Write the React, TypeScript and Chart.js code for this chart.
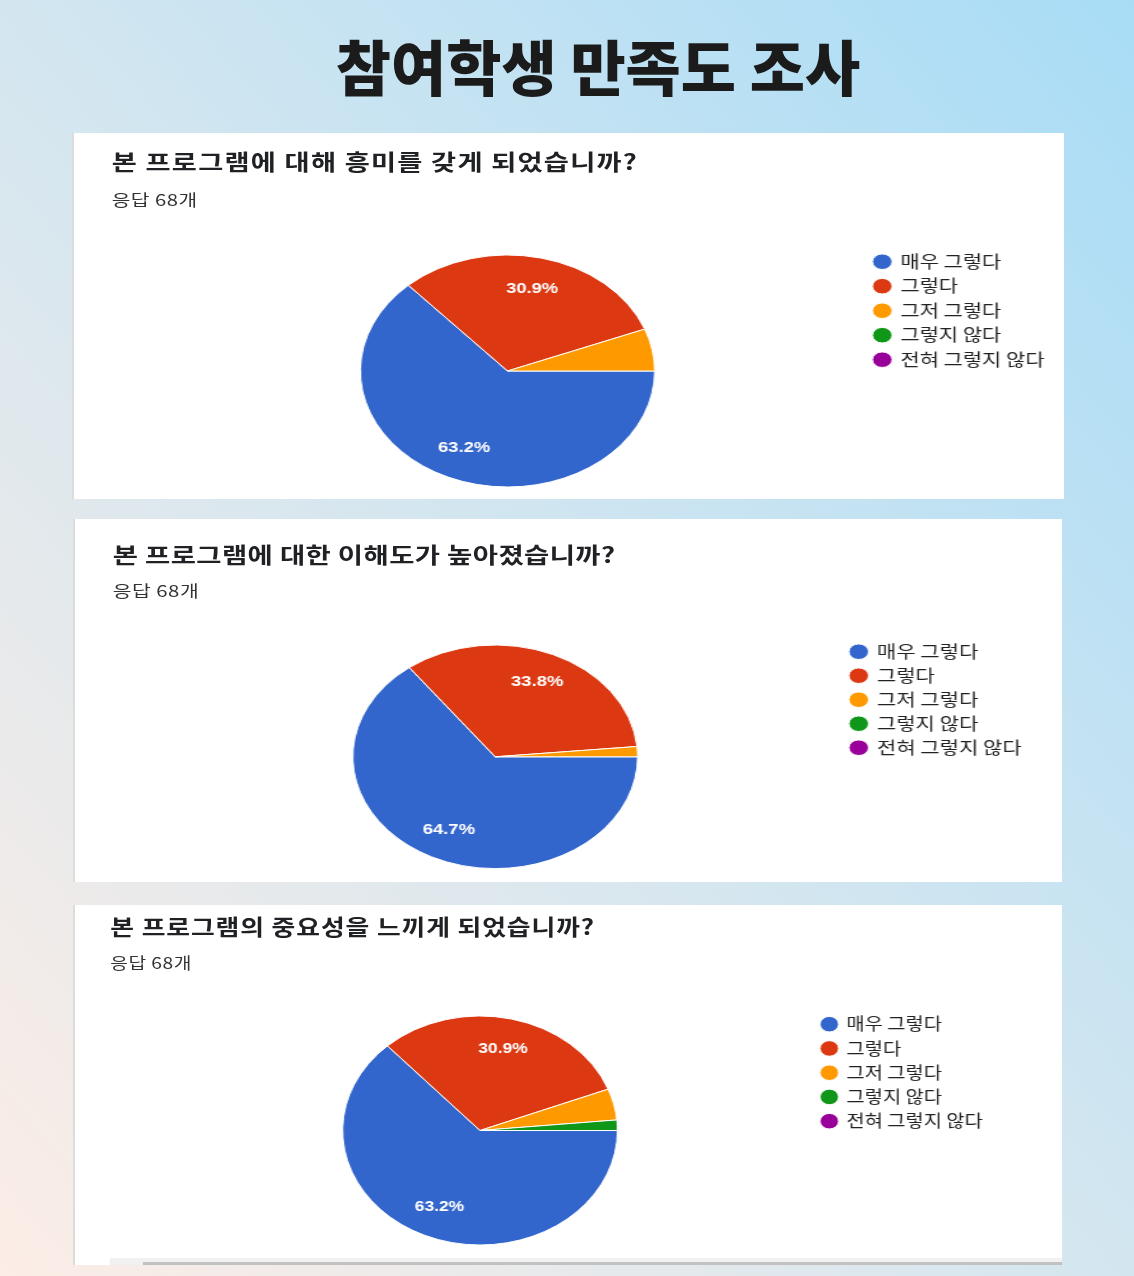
import { useEffect, useRef } from 'react';
import { Chart, ArcElement, PieController, Legend } from 'chart.js';

Chart.register(ArcElement, PieController, Legend);

// 응답 항목 / 색상
const answerLabels = ['매우 그렇다', '그렇다', '그저 그렇다', '그렇지 않다', '전혀 그렇지 않다'];
const sliceColors = ['#3366cc', '#dc3912', '#ff9900', '#109618', '#990099'];

// 문항별 응답 수 (총 68명)
const interestCounts = [43, 21, 4, 0, 0];
const understandingCounts = [44, 23, 1, 0, 0];
const importanceCounts = [43, 21, 3, 1, 0];

const questionTitles = [
  '본 프로그램에 대해 흥미를 갖게 되었습니까?',
  '본 프로그램에 대한 이해도가 높아졌습니까?',
  '본 프로그램의 중요성을 느끼게 되었습니까?',
];
const responseText = '응답 68개';
const pageTitle = '참여학생 만족도 조사';

const KR_FONT = '"Noto Sans CJK KR", "Noto Sans", sans-serif';
const LEGEND_SIZE = 16.5;
const BOX_W = 12;
const BOX_H = 11;

// card geometry in page pixels (the screenshot is stretched sideways by `s`)
const cardLayouts = [
  { left: 72, top: 133, width: 992, height: 366, s: 1.267, cx: 507, cy: 371, r: 116, dotX: 881.3, dotY: 261.7, row: 24.5, titleY: 161.7, subY: 200, textX: 111.7, titleSpacing: 1 },
  { left: 73, top: 519, width: 989, height: 363, s: 1.274, cx: 495.2, cy: 756.8, r: 111.8, dotX: 858.7, dotY: 651.7, row: 24, titleY: 555, subY: 590.7, textX: 112.7, titleSpacing: 0.35 },
  { left: 73, top: 905, width: 989, height: 360, s: 1.2, cx: 480, cy: 1130.5, r: 114.5, dotX: 829.3, dotY: 1024.2, row: 24.25, titleY: 927, subY: 963, textX: 110.3, titleSpacing: 0.75 },
];

const sliceTextPlugin = {
  id: 'sliceText',
  afterDatasetsDraw(chart: any) {
    const ctx = chart.ctx;
    const meta = chart.getDatasetMeta(0);
    const values = chart.data.datasets[0].data as number[];
    const total = values.reduce((a, b) => a + b, 0);
    ctx.save();
    ctx.font = 'bold 14.5px "Liberation Sans", Arial, sans-serif';
    ctx.fillStyle = '#ffffff';
    ctx.textAlign = 'center';
    ctx.textBaseline = 'middle';
    meta.data.forEach((arc: any, i: number) => {
      const share = values[i] / total;
      if (share < 0.1) return;
      const p = arc.getProps(['x', 'y', 'startAngle', 'endAngle', 'outerRadius'], true);
      const mid = (p.startAngle + p.endAngle) / 2;
      const d = p.outerRadius * 0.73;
      ctx.fillText(`${(share * 100).toFixed(1)}%`, p.x + Math.cos(mid) * d, p.y + Math.sin(mid) * d);
    });
    ctx.restore();
  },
};

const measure = (text: string, font: string) => {
  const c = document.createElement('canvas').getContext('2d')!;
  c.font = font;
  return c.measureText(text).width;
};

const PieCard = ({ idx, counts }: { idx: number; counts: number[] }) => {
  const canvasRef = useRef<HTMLCanvasElement | null>(null);
  const L = cardLayouts[idx];
  const natW = L.width / L.s;
  const nx = (x: number) => (x - L.left) / L.s;

  useEffect(() => {
    if (!canvasRef.current) return;
    const labelPad = L.row - LEGEND_SIZE;
    const longest = Math.max(...answerLabels.map((t) => measure(t, `${LEGEND_SIZE}px ${KR_FONT}`)));
    const legendW = labelPad + BOX_W + LEGEND_SIZE / 2 + longest + 10;
    const legendLeft = nx(L.dotX) - labelPad - BOX_W / 2;
    const padL = 2 * nx(L.cx) - legendLeft;
    const padR = natW - legendLeft - legendW;
    const padT = L.dotY - L.top - labelPad - LEGEND_SIZE / 2;
    const padB = L.height - (2 * (L.cy - L.top) - padT);

    const chart = new Chart(canvasRef.current, {
      type: 'pie',
      data: {
        labels: answerLabels,
        datasets: [{
          data: counts,
          backgroundColor: sliceColors,
          borderColor: '#ffffff',
          borderWidth: 1,
        }],
      },
      options: {
        animation: false,
        responsive: true,
        maintainAspectRatio: false,
        events: [],
        rotation: 90,
        radius: L.r,
        layout: { padding: { left: padL, right: padR, top: padT, bottom: padB } },
        plugins: {
          tooltip: { enabled: false },
          legend: {
            position: 'right',
            align: 'start',
            labels: {
              usePointStyle: true,
              pointStyle: 'circle',
              boxWidth: BOX_W,
              boxHeight: BOX_H,
              padding: labelPad,
              color: '#222222',
              font: { family: KR_FONT, size: LEGEND_SIZE },
            },
          },
        },
      },
      plugins: [sliceTextPlugin],
    });
    return () => chart.destroy();
  }, [counts]);

  return (
    <div style={{ position: 'absolute', left: L.left, top: L.top, width: L.width, height: L.height, background: '#ffffff', overflow: 'hidden' }}>
      <div style={{ position: 'absolute', left: 0, top: 0, width: natW, height: L.height, transform: `scaleX(${L.s})`, transformOrigin: '0 0' }}>
        <div style={{ position: 'absolute', left: nx(L.textX), top: L.titleY - L.top, transform: 'translateY(-55%)', fontFamily: KR_FONT, fontSize: 21.5, fontWeight: 700, letterSpacing: L.titleSpacing, color: '#202124', lineHeight: 1, whiteSpace: 'nowrap' }}>
          {questionTitles[idx]}
        </div>
        <div style={{ position: 'absolute', left: nx(L.textX), top: L.subY - L.top, transform: 'translateY(-55%)', fontFamily: KR_FONT, fontSize: 16, letterSpacing: 0.4, color: '#333333', lineHeight: 1, whiteSpace: 'nowrap' }}>
          {responseText}
        </div>
        <div style={{ position: 'absolute', left: 0, top: 0, width: natW, height: L.height }}>
          <canvas ref={canvasRef}></canvas>
        </div>
      </div>
      <div style={{ position: 'absolute', left: 0, top: 0, width: 2, height: L.height, background: '#dcdcdc' }} />
    </div>
  );
};

const App = () => {
  return (
    <div style={{
      position: 'absolute', left: 0, top: 0, width: 1134, height: 1276, overflow: 'hidden',
      background: 'linear-gradient(to top right, #fcede6 0%, #d3e6f0 50%, #a8dcf6 100%)',
    }}>
      <div style={{ position: 'absolute', left: 598, top: 68, transform: 'translate(-50%, -55%)', fontFamily: KR_FONT, fontSize: 60, fontWeight: 900, letterSpacing: 0, color: '#1b1b1b', lineHeight: 1, whiteSpace: 'nowrap' }}>
        {pageTitle}
      </div>
      <PieCard idx={0} counts={interestCounts} />
      <PieCard idx={1} counts={understandingCounts} />
      <PieCard idx={2} counts={importanceCounts} />
      {/* 잘린 가로 스크롤바 */}
      <div style={{ position: 'absolute', left: 110, top: 1258, width: 952, height: 7, background: '#f1f1f1' }} />
      <div style={{ position: 'absolute', left: 143, top: 1262, width: 919, height: 3, background: '#c1c1c1' }} />
    </div>
  );
};

export default App;
